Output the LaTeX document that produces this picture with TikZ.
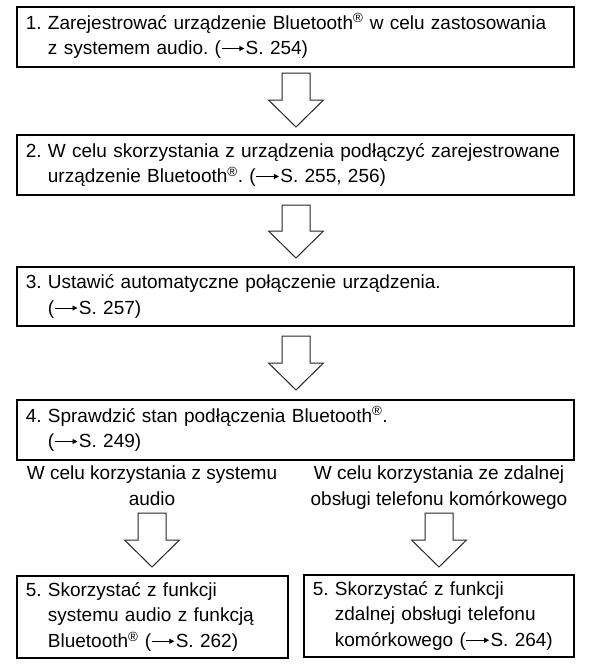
\documentclass[tikz,border=0pt]{standalone}
\usepackage{fontspec}
\setmainfont{Liberation Sans}
\usetikzlibrary{calc,arrows.meta}
\frenchspacing
\newcommand{\reg}{\textsuperscript{®}}
\newcommand{\rarr}{\tikz[baseline=0pt,x=1pt,y=1pt]\draw[line width=0.9pt,-{Triangle[length=5pt,width=5pt]}] (0,0.32em) -- (1.2em,0.32em);\kern0.05em}
\begin{document}
\begin{tikzpicture}[x=1pt,y=-1pt,
  every node/.style={font=\fontsize{19}{25.5}\selectfont\frenchspacing},
  stepbox/.style={draw=black,line width=1.5pt,rectangle,anchor=north west,
    inner xsep=8pt,inner ysep=0pt,align=left},
  blockarrow/.style={draw=black!85,line width=1pt,fill=white,line join=miter},
  sidelabel/.style={align=center,inner sep=0pt,anchor=north}
]
\useasboundingbox (0,0) rectangle (594,667);

% boxes
\node[stepbox,minimum width=557pt,minimum height=60pt,text width=539pt] (b1) at (16,6)
  {\begin{tabular}{@{}l@{}l@{}}1.~ & Zarejestrować urządzenie Bluetooth\reg{} w celu zastosowania\\ & z systemem audio. (\rarr S. 254)\end{tabular}};
\node[stepbox,minimum width=557pt,minimum height=60pt,text width=539pt] (b2) at (16,134)
  {\begin{tabular}{@{}l@{}l@{}}2.~ & W celu skorzystania z urządzenia podłączyć zarejestrowane\\ & urządzenie Bluetooth\reg. (\rarr S. 255, 256)\end{tabular}};
\node[stepbox,minimum width=557pt,minimum height=59pt,text width=539pt] (b3) at (16,266)
  {\begin{tabular}{@{}l@{}l@{}}3.~ & Ustawić automatyczne połączenie urządzenia.\\ & (\rarr S. 257)\end{tabular}};
\node[stepbox,minimum width=557pt,minimum height=60pt,text width=539pt] (b4) at (16,399)
  {\begin{tabular}{@{}l@{}l@{}}4.~ & Sprawdzić stan podłączenia Bluetooth\reg.\\ & (\rarr S. 249)\end{tabular}};
\node[stepbox,minimum width=271pt,minimum height=82pt,text width=253pt] (b5a) at (16,575)
  {\begin{tabular}{@{}l@{}l@{}}5.~ & Skorzystać z funkcji\\ & systemu audio z funkcją\\ & Bluetooth\reg{} (\rarr S. 262)\end{tabular}};
\node[stepbox,minimum width=270pt,minimum height=82pt,text width=252pt] (b5b) at (303,574)
  {\begin{tabular}{@{}l@{}l@{}}5.~ & Skorzystać z funkcji\\ & zdalnej obsługi telefonu\\ & komórkowego (\rarr S. 264)\end{tabular}};

% side labels
\node[sidelabel] (la) at (152,466) {W celu korzystania z systemu\\audio};
\node[sidelabel] (lb) at (439,466) {W celu korzystania ze zdalnej\\obsługi telefonu komórkowego};

% arrow end points
\coordinate (a1s) at (296,73);  \coordinate (a1e) at (296,127);
\coordinate (a2s) at (296,205); \coordinate (a2e) at (296,258);
\coordinate (a3s) at (296,336); \coordinate (a3e) at (296,390);
\coordinate (a4s) at (152,513); \coordinate (a4e) at (152,567);
\coordinate (a5s) at (439,513); \coordinate (a5e) at (439,567);

\foreach \s/\e in {a1s/a1e,a2s/a2e,a3s/a3e,a4s/a4e,a5s/a5e}{
  \draw[blockarrow] ($(\s)+(-14,0)$) -- ($(\e)+(-14,-27)$) -- ($(\e)+(-27.5,-27)$)
    -- (\e) -- ($(\e)+(27.5,-27)$) -- ($(\e)+(14,-27)$) -- ($(\s)+(14,0)$) -- cycle;
}
\end{tikzpicture}
\end{document}
